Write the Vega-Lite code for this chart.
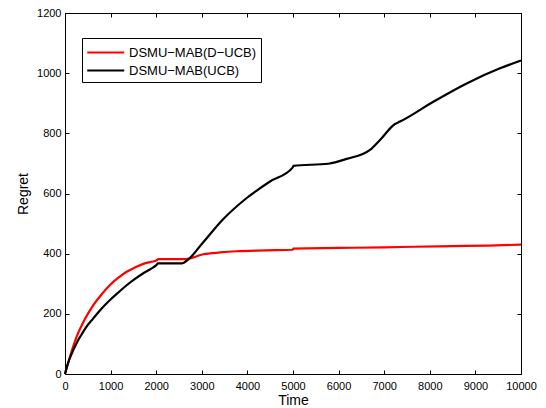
{
  "$schema": "https://vega.github.io/schema/vega-lite/v6.json",
  "width": 456,
  "height": 361,
  "autosize": {"type": "none"},
  "padding": {"left": 65, "top": 13, "right": 25, "bottom": 34},
  "background": "white",
  "config": {
    "view": {"stroke": "black", "strokeWidth": 1},
    "font": "Liberation Sans",
    "axis": {
      "domainColor": "black",
      "domainWidth": 1,
      "tickColor": "black",
      "tickSize": -4,
      "grid": false,
      "labelColor": "black",
      "labelFont": "Liberation Sans",
      "labelFontSize": 11,
      "labelFlush": false,
      "titleColor": "black",
      "titleFont": "Liberation Sans",
      "titleFontSize": 14,
      "titleFontWeight": "normal"
    }
  },
  "data": {
    "values": [
      {"time": 0, "regret": 0, "series": "DSMU−MAB(D−UCB)"},
      {"time": 110, "regret": 58, "series": "DSMU−MAB(D−UCB)"},
      {"time": 256, "regret": 124, "series": "DSMU−MAB(D−UCB)"},
      {"time": 446, "regret": 185, "series": "DSMU−MAB(D−UCB)"},
      {"time": 621, "regret": 229, "series": "DSMU−MAB(D−UCB)"},
      {"time": 804, "regret": 265, "series": "DSMU−MAB(D−UCB)"},
      {"time": 987, "regret": 296, "series": "DSMU−MAB(D−UCB)"},
      {"time": 1170, "regret": 320, "series": "DSMU−MAB(D−UCB)"},
      {"time": 1352, "regret": 340, "series": "DSMU−MAB(D−UCB)"},
      {"time": 1535, "regret": 354, "series": "DSMU−MAB(D−UCB)"},
      {"time": 1718, "regret": 366, "series": "DSMU−MAB(D−UCB)"},
      {"time": 1900, "regret": 373, "series": "DSMU−MAB(D−UCB)"},
      {"time": 2003, "regret": 377, "series": "DSMU−MAB(D−UCB)"},
      {"time": 2047, "regret": 382, "series": "DSMU−MAB(D−UCB)"},
      {"time": 2650, "regret": 382, "series": "DSMU−MAB(D−UCB)"},
      {"time": 3033, "regret": 398, "series": "DSMU−MAB(D−UCB)"},
      {"time": 3400, "regret": 404, "series": "DSMU−MAB(D−UCB)"},
      {"time": 3764, "regret": 408, "series": "DSMU−MAB(D−UCB)"},
      {"time": 4400, "regret": 411, "series": "DSMU−MAB(D−UCB)"},
      {"time": 4990, "regret": 413, "series": "DSMU−MAB(D−UCB)"},
      {"time": 5010, "regret": 417, "series": "DSMU−MAB(D−UCB)"},
      {"time": 6000, "regret": 419, "series": "DSMU−MAB(D−UCB)"},
      {"time": 7000, "regret": 421, "series": "DSMU−MAB(D−UCB)"},
      {"time": 7670, "regret": 423, "series": "DSMU−MAB(D−UCB)"},
      {"time": 8500, "regret": 425, "series": "DSMU−MAB(D−UCB)"},
      {"time": 9300, "regret": 427, "series": "DSMU−MAB(D−UCB)"},
      {"time": 10000, "regret": 430, "series": "DSMU−MAB(D−UCB)"},
      {"time": 0, "regret": 0, "series": "DSMU−MAB(UCB)"},
      {"time": 50, "regret": 28, "series": "DSMU−MAB(UCB)"},
      {"time": 183, "regret": 80, "series": "DSMU−MAB(UCB)"},
      {"time": 446, "regret": 152, "series": "DSMU−MAB(UCB)"},
      {"time": 621, "regret": 185, "series": "DSMU−MAB(UCB)"},
      {"time": 804, "regret": 218, "series": "DSMU−MAB(UCB)"},
      {"time": 987, "regret": 246, "series": "DSMU−MAB(UCB)"},
      {"time": 1170, "regret": 271, "series": "DSMU−MAB(UCB)"},
      {"time": 1352, "regret": 295, "series": "DSMU−MAB(UCB)"},
      {"time": 1535, "regret": 316, "series": "DSMU−MAB(UCB)"},
      {"time": 1718, "regret": 335, "series": "DSMU−MAB(UCB)"},
      {"time": 1900, "regret": 351, "series": "DSMU−MAB(UCB)"},
      {"time": 2003, "regret": 362, "series": "DSMU−MAB(UCB)"},
      {"time": 2040, "regret": 368, "series": "DSMU−MAB(UCB)"},
      {"time": 2558, "regret": 368, "series": "DSMU−MAB(UCB)"},
      {"time": 2705, "regret": 381, "series": "DSMU−MAB(UCB)"},
      {"time": 3000, "regret": 432, "series": "DSMU−MAB(UCB)"},
      {"time": 3472, "regret": 515, "series": "DSMU−MAB(UCB)"},
      {"time": 3985, "regret": 585, "series": "DSMU−MAB(UCB)"},
      {"time": 4496, "regret": 640, "series": "DSMU−MAB(UCB)"},
      {"time": 4990, "regret": 686, "series": "DSMU−MAB(UCB)"},
      {"time": 5010, "regret": 692, "series": "DSMU−MAB(UCB)"},
      {"time": 5775, "regret": 699, "series": "DSMU−MAB(UCB)"},
      {"time": 6177, "regret": 715, "series": "DSMU−MAB(UCB)"},
      {"time": 6689, "regret": 745, "series": "DSMU−MAB(UCB)"},
      {"time": 6908, "regret": 778, "series": "DSMU−MAB(UCB)"},
      {"time": 7237, "regret": 831, "series": "DSMU−MAB(UCB)"},
      {"time": 7346, "regret": 839, "series": "DSMU−MAB(UCB)"},
      {"time": 8077, "regret": 905, "series": "DSMU−MAB(UCB)"},
      {"time": 8808, "regret": 966, "series": "DSMU−MAB(UCB)"},
      {"time": 9539, "regret": 1016, "series": "DSMU−MAB(UCB)"},
      {"time": 10000, "regret": 1042, "series": "DSMU−MAB(UCB)"}
    ]
  },
  "layer": [
    {
      "mark": {"type": "line", "strokeWidth": 2, "opacity": 0},
      "encoding": {
        "x": {"field": "time", "type": "quantitative", "scale": {"domain": [0, 10000], "nice": false},
          "axis": {"orient": "top", "values": [0,1000,2000,3000,4000,5000,6000,7000,8000,9000,10000], "labels": false, "title": null, "domain": false}},
        "y": {"field": "regret", "type": "quantitative", "scale": {"domain": [0, 1200], "nice": false},
          "axis": {"orient": "right", "values": [0,200,400,600,800,1000,1200], "labels": false, "title": null, "domain": false}},
        "detail": {"field": "series"}
      }
    },
    {
      "mark": {"type": "line", "strokeWidth": 2.2, "interpolate": "monotone"},
      "encoding": {
        "x": {"field": "time", "type": "quantitative", "scale": {"domain": [0, 10000], "nice": false},
          "axis": {"orient": "bottom", "values": [0,1000,2000,3000,4000,5000,6000,7000,8000,9000,10000], "format": "d", "title": "Time", "labelPadding": 10, "titlePadding": 2}},
        "y": {"field": "regret", "type": "quantitative", "scale": {"domain": [0, 1200], "nice": false},
          "axis": {"orient": "left", "values": [0,200,400,600,800,1000,1200], "format": "d", "title": "Regret", "labelPadding": 8, "titlePadding": 6}},
        "color": {
          "field": "series", "type": "nominal",
          "scale": {"domain": ["DSMU−MAB(D−UCB)", "DSMU−MAB(UCB)"], "range": ["#ff0000", "#000000"]},
          "legend": {
            "orient": "none", "legendX": 17, "legendY": 25, "title": null,
            "strokeColor": "black", "fillColor": "white", "padding": 4,
            "symbolType": "M-1,0H3", "symbolSize": 342, "symbolStrokeWidth": 2.2,
            "labelFont": "Liberation Sans", "labelFontSize": 13, "labelColor": "black",
            "labelOffset": 22, "rowPadding": -3
          }
        }
      }
    }
  ]
}
